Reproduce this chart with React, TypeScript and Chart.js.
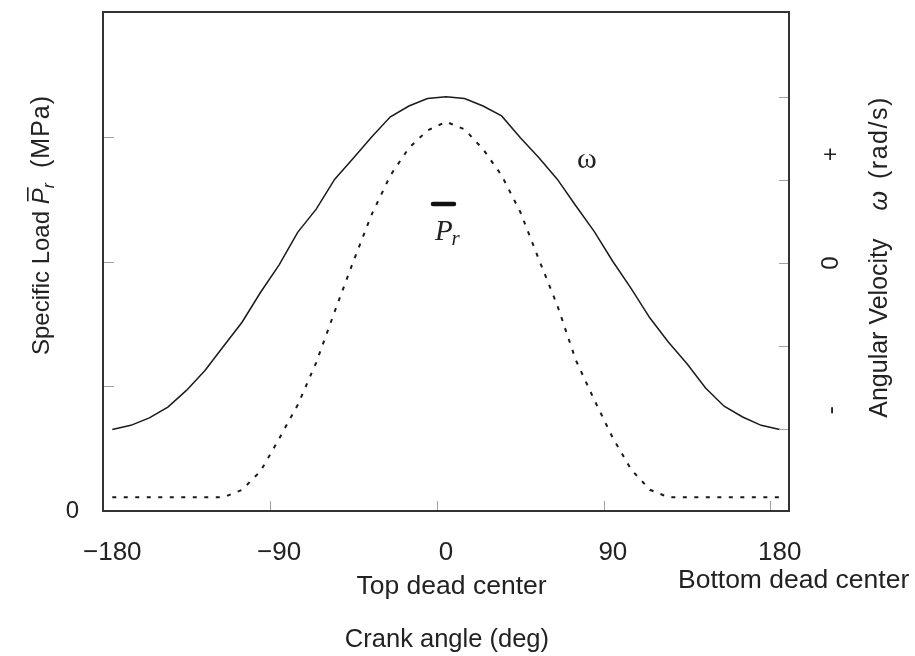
import React, { useEffect, useRef } from "react";
import { Chart, registerables } from "chart.js";

Chart.register(...registerables);

// ---- data ----
const crankAngles = [
  -180, -170, -160, -150, -140, -130, -120, -110, -100, -90, -80, -70, -60, -50, -40, -30, -20, -10,
  0, 10, 20, 30, 40, 50, 60, 70, 80, 90, 100, 110, 120, 130, 140, 150, 160, 170, 180,
];
const omegaValues = [
  -2.0, -1.95, -1.86, -1.73, -1.53, -1.29, -1.0, -0.71, -0.35, -0.02, 0.37, 0.65, 1.01, 1.26, 1.52, 1.76,
  1.89, 1.98, 2.0, 1.98, 1.89, 1.77, 1.51, 1.27, 1.01, 0.69, 0.38, 0.02, -0.31, -0.66, -0.95, -1.21, -1.5,
  -1.72, -1.85, -1.95, -2.0,
];
const loadValues = [
  0.11, 0.11, 0.11, 0.11, 0.11, 0.11, 0.11, 0.17, 0.32, 0.58, 0.85, 1.19, 1.6, 2.0, 2.38, 2.69, 2.91, 3.05,
  3.12, 3.06, 2.9, 2.69, 2.4, 2.02, 1.65, 1.21, 0.89, 0.585, 0.33, 0.17, 0.11, 0.11, 0.11, 0.11, 0.11, 0.11,
  0.11,
];
const xTickLabels = [-180, -90, 0, 90, 180];
const xMarkValues = [-95, -5, 85, 175];
const loadMarkValues = [1, 2, 3];
const loadTickLabels = [0];
const omegaMarkValues = [-2, -1, 0, 1, 2];
const omegaSignLabels = ["+", "0", "-"];
const omegaSignValues = [1.31, 0, -1.77];

const SANS = "'Liberation Sans', Arial, sans-serif";
const SERIF = "'Liberation Serif', 'Times New Roman', serif";
const INK = "#222";

type Run = { text: string; font: string; dy?: number; overline?: boolean; gap?: number; spacing?: number; w?: number };

function drawRuns(ctx: CanvasRenderingContext2D, runs: Run[], cx: number, cy: number, angle: number) {
  ctx.save();
  ctx.translate(cx, cy);
  ctx.rotate(angle);
  ctx.textAlign = "left";
  ctx.textBaseline = "alphabetic";
  const c: any = ctx;
  let total = 0;
  runs.forEach((r) => {
    ctx.font = r.font;
    c.letterSpacing = (r.spacing || 0) + "px";
    r.w = ctx.measureText(r.text).width;
    total += r.w + (r.gap || 0);
  });
  let x = -total / 2;
  runs.forEach((r) => {
    x += r.gap || 0;
    ctx.font = r.font;
    c.letterSpacing = (r.spacing || 0) + "px";
    ctx.fillText(r.text, x, r.dy || 0);
    if (r.overline) {
      ctx.fillRect(x + 3, -22, (r.w || 0) - 2, 1.6);
    }
    x += r.w || 0;
  });
  c.letterSpacing = "0px";
  ctx.restore();
}

const framePlugin = {
  id: "frame",
  afterDatasetsDraw(chart: any) {
    const { ctx, chartArea: a, scales } = chart;
    const sx = scales.x, sy = scales.y, sw = scales.y1;
    ctx.save();
    // inner tick marks
    ctx.strokeStyle = "#a0a0a0";
    ctx.lineWidth = 1;
    ctx.beginPath();
    xMarkValues.forEach((v) => {
      const px = Math.round(sx.getPixelForValue(v)) + 0.5;
      ctx.moveTo(px, a.bottom);
      ctx.lineTo(px, a.bottom - 10);
    });
    loadMarkValues.forEach((v) => {
      const py = Math.round(sy.getPixelForValue(v)) + 0.5;
      ctx.moveTo(a.left, py);
      ctx.lineTo(a.left + 11, py);
    });
    omegaMarkValues.forEach((v) => {
      const py = Math.round(sw.getPixelForValue(v)) + 0.5;
      ctx.moveTo(a.right, py);
      ctx.lineTo(a.right - 10, py);
    });
    ctx.stroke();
    // frame
    ctx.strokeStyle = "#333";
    ctx.lineWidth = 2;
    ctx.strokeRect(a.left, a.top, a.right - a.left, a.bottom - a.top);

    ctx.fillStyle = INK;
    // omega curve label
    ctx.font = `30px ${SERIF}`;
    ctx.textAlign = "center";
    ctx.textBaseline = "middle";
    ctx.fillText("ω", sx.getPixelForValue(76), sw.getPixelForValue(1.24));
    // Pr legend bar
    const bx0 = sx.getPixelForValue(-7), bx1 = sx.getPixelForValue(4.3), by = sy.getPixelForValue(2.46);
    ctx.strokeStyle = "#111";
    ctx.lineWidth = 4.5;
    ctx.lineCap = "round";
    ctx.beginPath();
    ctx.moveTo(bx0, by);
    ctx.lineTo(bx1, by);
    ctx.stroke();
    ctx.lineCap = "butt";
    // Pr legend text
    ctx.textAlign = "left";
    ctx.textBaseline = "alphabetic";
    const px = sx.getPixelForValue(-6), pyb = sy.getPixelForValue(2.17);
    ctx.font = `italic 29px ${SERIF}`;
    ctx.fillText("P", px, pyb);
    const pw = ctx.measureText("P").width;
    ctx.font = `italic 21px ${SERIF}`;
    ctx.fillText("r", px + pw - 1, pyb + 5);

    // bottom annotations
    ctx.textAlign = "center";
    ctx.textBaseline = "middle";
    ctx.font = `26.5px ${SANS}`;
    ctx.fillText("Top dead center", sx.getPixelForValue(3), 587);
    ctx.fillText("Bottom dead center", sx.getPixelForValue(187.5), 581);
    ctx.font = `25.5px ${SANS}`;
    ctx.fillText("Crank angle (deg)", sx.getPixelForValue(0.5), 640);

    // left title
    drawRuns(
      ctx,
      [
        { text: "Specific Load ", font: `24px ${SANS}` },
        { text: "P", font: `italic 24px ${SANS}`, overline: true },
        { text: "r", font: `italic 16px ${SANS}`, dy: 5 },
        { text: "(MPa)", font: `25px ${SANS}`, gap: 15, spacing: 1 },
      ],
      49,
      225,
      -Math.PI / 2
    );
    // right title
    drawRuns(
      ctx,
      [
        { text: "Angular Velocity", font: `25px ${SANS}` },
        { text: "ω", font: `italic 25px ${SANS}`, gap: 28 },
        { text: "(rad/s)", font: `25px ${SANS}`, gap: 12, spacing: 1.5 },
      ],
      887,
      257,
      -Math.PI / 2
    );
    // right signs
    ctx.font = `24px ${SANS}`;
    omegaSignLabels.forEach((t, i) => {
      ctx.save();
      ctx.translate(831, sw.getPixelForValue(omegaSignValues[i]));
      ctx.rotate(-Math.PI / 2);
      ctx.textAlign = "center";
      ctx.textBaseline = "middle";
      ctx.fillText(t, 0, 0);
      ctx.restore();
    });
    ctx.restore();
  },
};

const zeroPad = (s: any) => {
  s.paddingTop = 0;
  s.paddingBottom = 0;
  s.paddingLeft = 0;
  s.paddingRight = 0;
};

export default function App() {
  const ref = useRef<HTMLCanvasElement>(null);
  useEffect(() => {
    document.body.style.margin = "0";
    const chart = new Chart(ref.current as HTMLCanvasElement, {
      type: "line",
      data: {
        datasets: [
          {
            label: "ω",
            data: crankAngles.map((x, i) => ({ x, y: omegaValues[i] })),
            yAxisID: "y1",
            borderColor: "#1a1a1a",
            borderWidth: 1.5,
            pointRadius: 0,
            tension: 0,
            fill: false,
          },
          {
            label: "Pr",
            data: crankAngles.map((x, i) => ({ x, y: loadValues[i] })),
            yAxisID: "y",
            borderColor: "#1a1a1a",
            borderWidth: 2,
            borderDash: [4, 7.5],
            pointRadius: 0,
            tension: 0,
            fill: false,
          },
        ],
      },
      options: {
        responsive: false,
        animation: false,
        layout: { padding: { top: 12, left: 0, right: 0, bottom: 0 } },
        plugins: { legend: { display: false }, tooltip: { enabled: false } },
        scales: {
          x: {
            type: "linear",
            position: "bottom",
            min: -185,
            max: 185,
            afterBuildTicks: (s: any) => {
              s.ticks = xTickLabels.map((v) => ({ value: v }));
            },
            afterFit: (s: any) => {
              s.height = 145;
              zeroPad(s);
            },
            grid: { display: false, drawTicks: false },
            border: { display: false },
            ticks: {
              autoSkip: false,
              maxRotation: 0,
              minRotation: 0,
              padding: 26,
              color: INK,
              font: { family: SANS, size: 26 },
              callback: (v: any) => (Number(v) < 0 ? "\u2212" + Math.abs(Number(v)) : String(v)),
            },
          },
          y: {
            type: "linear",
            position: "left",
            min: 0,
            max: 4,
            afterBuildTicks: (s: any) => {
              s.ticks = loadTickLabels.map((v) => ({ value: v }));
            },
            afterFit: (s: any) => {
              s.width = 103;
              zeroPad(s);
            },
            grid: { display: false, drawTicks: false },
            border: { display: false },
            ticks: { padding: 24, color: INK, font: { family: SANS, size: 24 } },
          },
          y1: {
            type: "linear",
            position: "right",
            min: -2.98,
            max: 3.02,
            afterFit: (s: any) => {
              s.width = 126;
              zeroPad(s);
            },
            grid: { display: false, drawTicks: false },
            border: { display: false },
            ticks: { display: false },
          },
        },
      },
      plugins: [framePlugin],
    } as any);
    return () => chart.destroy();
  }, []);
  return <canvas ref={ref} width={915} height={656} style={{ display: "block" }} />;
}
